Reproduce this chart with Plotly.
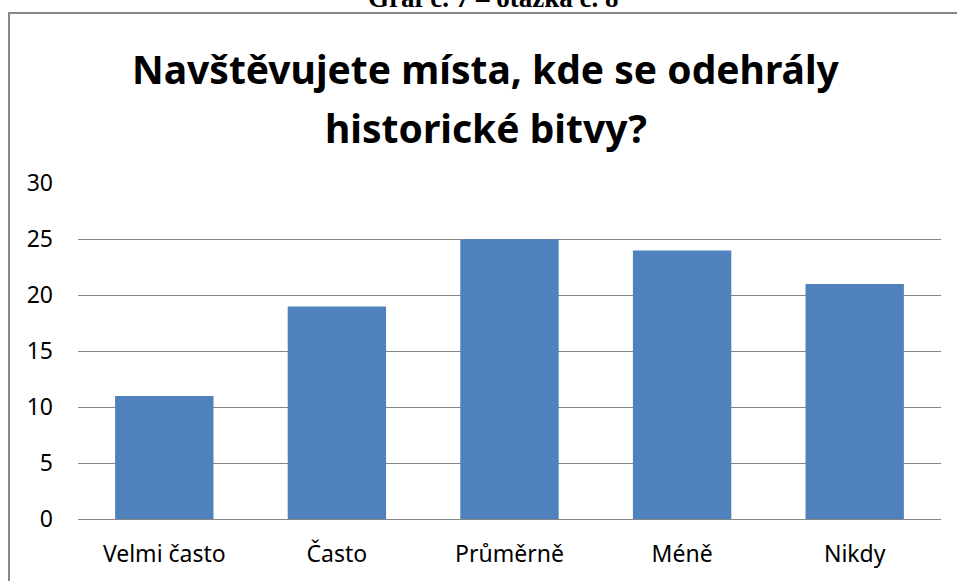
import plotly.graph_objects as go

categories = ["Velmi často", "Často", "Průměrně", "Méně", "Nikdy"]
values = [11, 19, 25, 24, 21]
y_ticks = [0, 5, 10, 15, 20, 25, 30]
title_lines = ["Navštěvujete místa, kde se odehrály", "historické bitvy?"]
caption_text = "Graf č. 7 – otázka č. 8"

W, H = 957, 581
L, R, T, B = 78, 16, 183, 60
pw, ph = W - L - R, H - T - B

def px_x(p):
    return (p - L) / pw

def px_y(p):
    return (H - B - p) / ph

fig = go.Figure(go.Bar(x=categories, y=values, marker_color="#4F81BD",
                       marker_line_width=0))

annotations = [
    dict(text="<b>" + caption_text + "</b>", xref="paper", yref="paper",
         x=px_x(493), y=px_y(14), xanchor="center", yanchor="bottom",
         showarrow=False, font=dict(size=27, family="Liberation Serif")),
]
for line, cy in zip(title_lines, [68, 127]):
    annotations.append(dict(text="<b>" + line + "</b>", xref="paper", yref="paper",
                            x=px_x(486), y=px_y(cy), xanchor="center",
                            yanchor="middle", showarrow=False,
                            font=dict(size=39, family="Noto Sans")))

fig.update_layout(
    width=W, height=H,
    margin=dict(l=L, r=R, t=T, b=B),
    paper_bgcolor="white", plot_bgcolor="white",
    bargap=0.43,
    showlegend=False,
    font=dict(family="Noto Sans", color="black"),
    xaxis=dict(showgrid=False, showline=True, linecolor="#868686", linewidth=1,
               ticks="", tickfont=dict(size=23, family="Noto Sans"),
               ticklabelstandoff=14, zeroline=False),
    yaxis=dict(range=[0, 30.03], tickvals=y_ticks, showgrid=True,
               gridcolor="#868686", gridwidth=1, zeroline=False,
               showline=False, ticks="", ticklabelstandoff=24,
               tickfont=dict(size=23, family="Noto Sans")),
    shapes=[dict(type="rect", xref="paper", yref="paper",
                 x0=px_x(9), x1=px_x(1000), y0=px_y(700), y1=px_y(12),
                 line=dict(color="#888888", width=2), fillcolor="rgba(0,0,0,0)",
                 layer="above")],
    annotations=annotations,
)

fig.write_html("out.html", config={"displayModeBar": False},
               post_script="document.body.style.margin='0';document.body.style.overflow='hidden';")
